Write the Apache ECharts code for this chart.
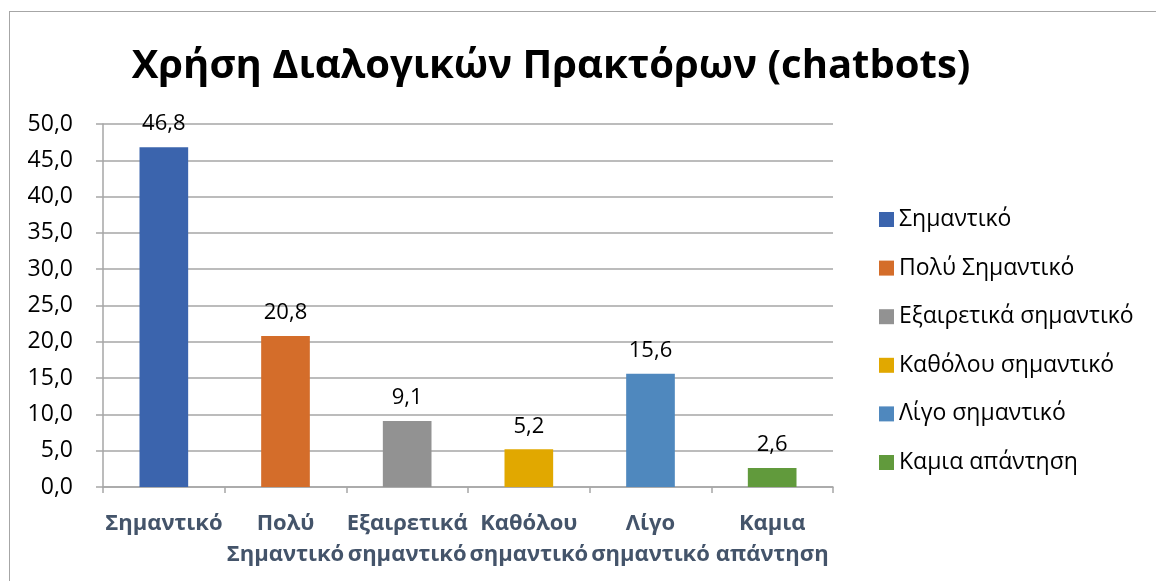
<!DOCTYPE html>
<html>
<head>
<meta charset="utf-8">
<script src="https://cdn.jsdelivr.net/npm/echarts@6/dist/echarts.min.js"></script>
<style>
  html, body { margin: 0; padding: 0; background: #fff; }
  #chart { position: absolute; left: 0; top: 0; width: 1156px; height: 581px; }
  #frame { position: absolute; left: 9px; top: 11px; width: 1147px; height: 570px;
           border-left: 1.5px solid #a6a6a6; border-top: 1.5px solid #a6a6a6; pointer-events: none; }
</style>
</head>
<body>
<div id="chart"></div>
<div id="frame"></div>
<script>
// categories and values
var categories = ['Σημαντικό', 'Πολύ Σημαντικό', 'Εξαιρετικά σημαντικό', 'Καθόλου σημαντικό', 'Λίγο σημαντικό', 'Καμια απάντηση']
var axisLabels = ['Σημαντικό', 'Πολύ\nΣημαντικό', 'Εξαιρετικά\nσημαντικό', 'Καθόλου\nσημαντικό', 'Λίγο\nσημαντικό', 'Καμια\nαπάντηση']
var values = [46.8, 20.8, 9.1, 5.2, 15.6, 2.6]
var colors = ['#3b64ad', '#d46d2a', '#929292', '#e1a800', '#4f88be', '#619a3c']

var fmt = function (v) { return Number(v).toFixed(1).replace('.', ',') }

var myChart = echarts.init(document.getElementById('chart'))

// one series per category so each gets its own legend entry
var series = categories.map(function (name, i) {
  var d = categories.map(function (c, j) { return j === i ? values[i] : '-' })
  return {
    name: name,
    type: 'bar',
    stack: 'all',
    barWidth: '40%',
    data: d,
    itemStyle: { color: colors[i] },
    label: {
      show: true,
      position: 'top',
      distance: 12,
      color: '#000',
      fontSize: 22,
      fontFamily: 'Open Sans',
      formatter: function (p) { return fmt(p.value) }
    }
  }
})

var option = {
  animation: false,
  title: {
    text: 'Χρήση Διαλογικών Πρακτόρων (chatbots)',
    left: 546,
    textAlign: 'center',
    top: 42,
    textStyle: { fontSize: 40, fontWeight: 'bold', color: '#000', fontFamily: 'Open Sans' }
  },
  legend: {
    orient: 'vertical',
    left: 874,
    top: 203,
    itemWidth: 15,
    itemHeight: 15,
    itemGap: 25.6,
    icon: 'rect',
    textStyle: { fontSize: 23, color: '#000', fontFamily: 'Open Sans' },
    data: categories
  },
  grid: { left: 103, right: 323, top: 124, bottom: 94 },
  xAxis: {
    type: 'category',
    data: axisLabels,
    axisLine: { lineStyle: { color: '#a6a6a6', width: 1.5 } },
    axisTick: { show: true, length: 6, lineStyle: { color: '#a6a6a6', width: 1.5 } },
    axisLabel: {
      margin: 21,
      interval: 0,
      fontSize: 22,
      fontWeight: 'bold',
      color: '#44546a',
      lineHeight: 31,
      fontFamily: 'Open Sans'
    }
  },
  yAxis: {
    type: 'value',
    min: 0,
    max: 50,
    interval: 5,
    axisLine: { show: true, lineStyle: { color: '#a6a6a6', width: 1.5 } },
    axisTick: { show: true, length: 7, lineStyle: { color: '#a6a6a6', width: 1.5 } },
    splitLine: { lineStyle: { color: '#a6a6a6', width: 1.5 } },
    axisLabel: {
      margin: 30,
      fontSize: 23,
      color: '#000',
      fontFamily: 'Open Sans',
      formatter: fmt
    }
  },
  series: series
}

myChart.setOption(option)
</script>
</body>
</html>
